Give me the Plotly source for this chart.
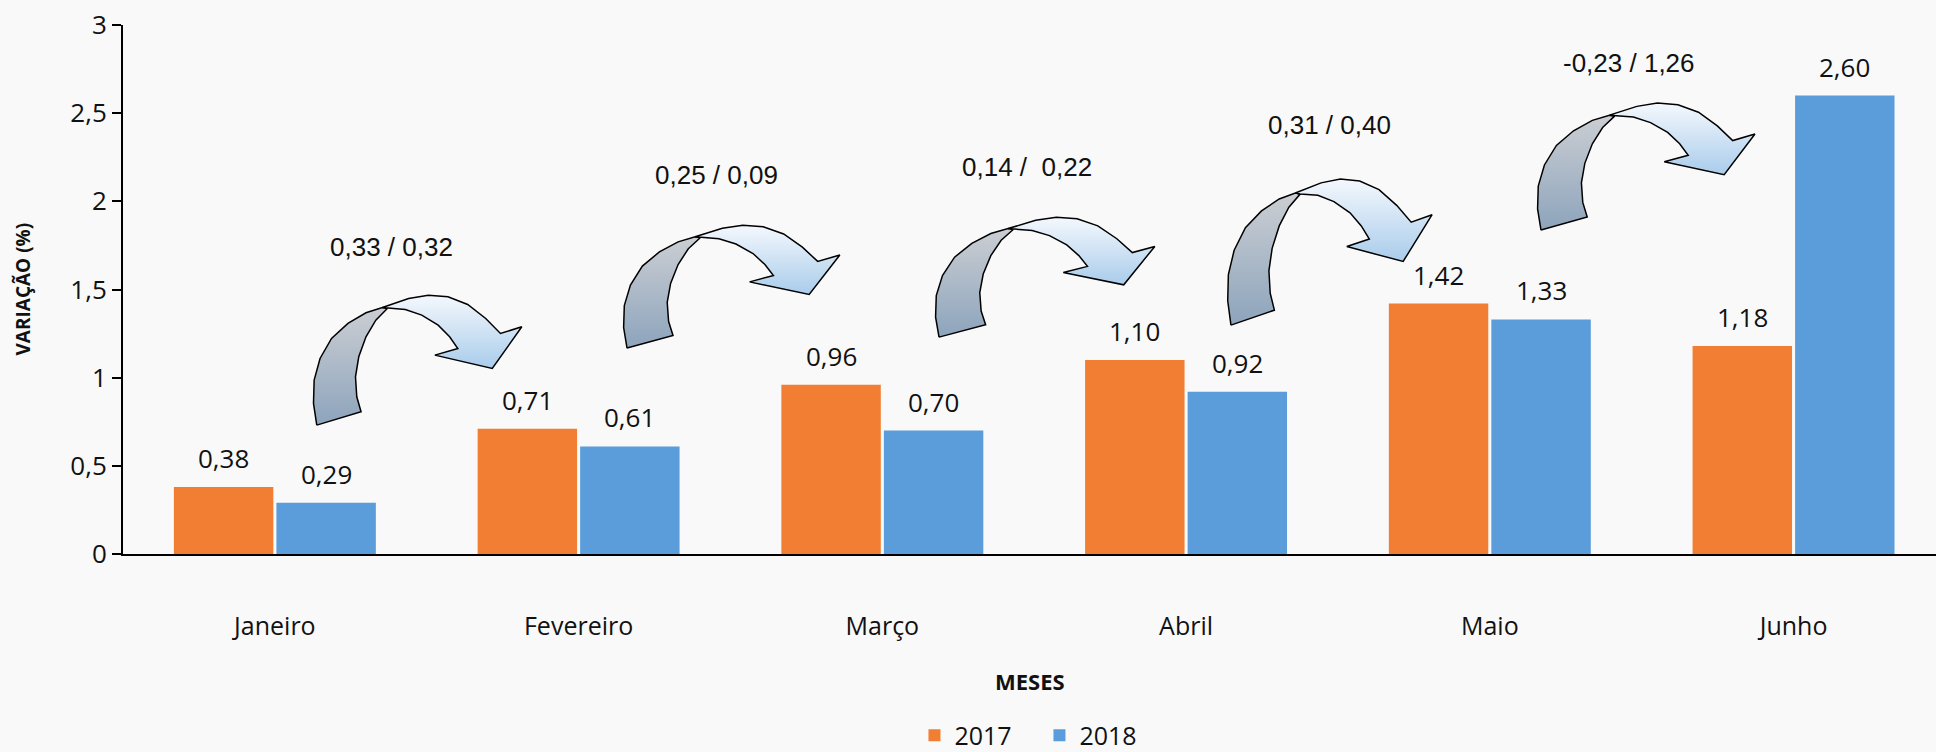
import plotly.graph_objects as go

# ---- data ----
months = ["Janeiro", "Fevereiro", "Março", "Abril", "Maio", "Junho"]
v2017 = [0.38, 0.71, 0.96, 1.10, 1.42, 1.18]
v2018 = [0.29, 0.61, 0.70, 0.92, 1.33, 2.60]
change_labels = ["0,33 / 0,32", "0,25 / 0,09", "0,14 /\u00a0 0,22", "0,31 / 0,40", "-0,23 / 1,26"]
y_ticks = [0, 0.5, 1, 1.5, 2, 2.5, 3]

# ---- styling / layout constants ----
ORANGE = "#F17E32"
BLUE = "#5B9CDA"
BG = "#F9F9F9"
BARGAP = 0.325
SLOT = (1 - BARGAP) / 2

# arrow boxes (x0, x1 in category units, y0, y1 in data units) and label anchors
arrow_boxes = [
    (0.125, 0.813, 0.731, 1.468),
    (1.146, 1.860, 1.168, 1.865),
    (2.173, 2.897, 1.230, 1.910),
    (3.135, 3.810, 1.298, 2.126),
    (4.155, 4.873, 1.837, 2.557),
]
label_pos = [(0.385, 1.740), (1.455, 2.149), (2.476, 2.194), (3.473, 2.432), (4.458, 2.783)]

# arrow outline template (normalized within box; v measured from top)
_BX0, _BX1, _BY0, _BY1 = 88, 725, 75, 465
_back = [(100, 465), (90, 400), (92, 330), (110, 265), (145, 205), (195, 160), (250, 128), (300, 112),
         (315, 115), (280, 150), (250, 200), (228, 260), (218, 320), (222, 380), (235, 425), (100, 465)]
_front = [(300, 112), (340, 98), (380, 85), (440, 75), (500, 80), (560, 103), (615, 145), (660, 190),
          (725, 170), (635, 295), (460, 255), (530, 235), (505, 200), (470, 165), (420, 135),
          (370, 118), (315, 115), (300, 112)]


def to_box(pts, box):
    x0, x1, y0, y1 = box
    xs, ys = [], []
    for px, py in pts:
        u = (px - _BX0) / (_BX1 - _BX0)
        v = (py - _BY0) / (_BY1 - _BY0)
        xs.append(x0 + u * (x1 - x0))
        ys.append(y1 - v * (y1 - y0))
    return xs, ys


fig = go.Figure()
fig.add_bar(x=list(range(len(months))), y=v2017, name="2017", marker=dict(color=ORANGE, line=dict(width=0)))
fig.add_bar(x=list(range(len(months))), y=v2018, name="2018", marker=dict(color=BLUE, line=dict(width=0)))

for box in arrow_boxes:
    xs, ys = to_box(_back, box)
    fig.add_trace(go.Scatter(x=xs, y=ys, mode="lines", fill="toself", showlegend=False, hoverinfo="skip",
                             line=dict(color="black", width=1.5),
                             fillgradient=dict(type="vertical", colorscale=[[0, "#8DA4BC"], [1, "#CBCED3"]])))
    xs, ys = to_box(_front, box)
    fig.add_trace(go.Scatter(x=xs, y=ys, mode="lines", fill="toself", showlegend=False, hoverinfo="skip",
                             line=dict(color="black", width=1.5),
                             fillgradient=dict(type="vertical", colorscale=[[0, "#A9CCEB"], [1, "#F4F8FD"]])))

annotations = []
for i, (a, b) in enumerate(zip(v2017, v2018)):
    for val, off in ((a, -SLOT / 2), (b, SLOT / 2)):
        annotations.append(dict(x=i + off, y=val, xref="x", yref="y", text=f"{val:.2f}".replace(".", ","),
                                showarrow=False, yanchor="bottom", yshift=9,
                                font=dict(family="Open Sans", size=26, color="#111")))
for (lx, ly), txt in zip(label_pos, change_labels):
    annotations.append(dict(x=lx, y=ly, xref="x", yref="y", text=txt, showarrow=False,
                            font=dict(family="Liberation Sans", size=26, color="#111")))
annotations.append(dict(x=0.5, y=0, xref="paper", yref="paper", text="<b>MESES</b>", showarrow=False,
                        yanchor="middle", yshift=-127, font=dict(family="Open Sans", size=22, color="#111")))
annotations.append(dict(x=0, y=0.5, xref="paper", yref="paper", text="<b>VARIAÇÃO (%)</b>", showarrow=False,
                        textangle=-90, xanchor="center", xshift=-101,
                        font=dict(family="Open Sans", size=19, color="#111")))

fig.update_layout(
    width=1936, height=752,
    margin=dict(l=123, r=0, t=25, b=198, autoexpand=False),
    paper_bgcolor=BG, plot_bgcolor=BG,
    barmode="group", bargap=BARGAP, bargroupgap=0.03,
    separators=", ",
    showlegend=True,
    legend=dict(orientation="h", x=0.5055, xanchor="center", y=-0.343, yanchor="middle",
                entrywidth=80, entrywidthmode="pixels",
                font=dict(family="Open Sans", size=25, color="#111"), bgcolor="rgba(0,0,0,0)"),
    annotations=annotations,
    xaxis=dict(range=[-0.5, 5.469], tickvals=list(range(len(months))), ticktext=months,
               showline=True, linecolor="black", linewidth=2, ticks="", showgrid=False, zeroline=False,
               automargin=False,
               ticklabelstandoff=49, tickfont=dict(family="Open Sans", size=25, color="#111")),
    yaxis=dict(range=[0, 3], tickvals=y_ticks, showline=True, linecolor="black", linewidth=2,
               ticks="outside", ticklen=9, tickwidth=2, tickcolor="black", showgrid=False, zeroline=False,
               automargin=False,
               ticklabelstandoff=0, tickfont=dict(family="Open Sans", size=26, color="#111")),
)

fig.write_html("out.html", config={"displayModeBar": False},
               post_script="document.body.style.margin='0';document.body.style.overflow='hidden';")
